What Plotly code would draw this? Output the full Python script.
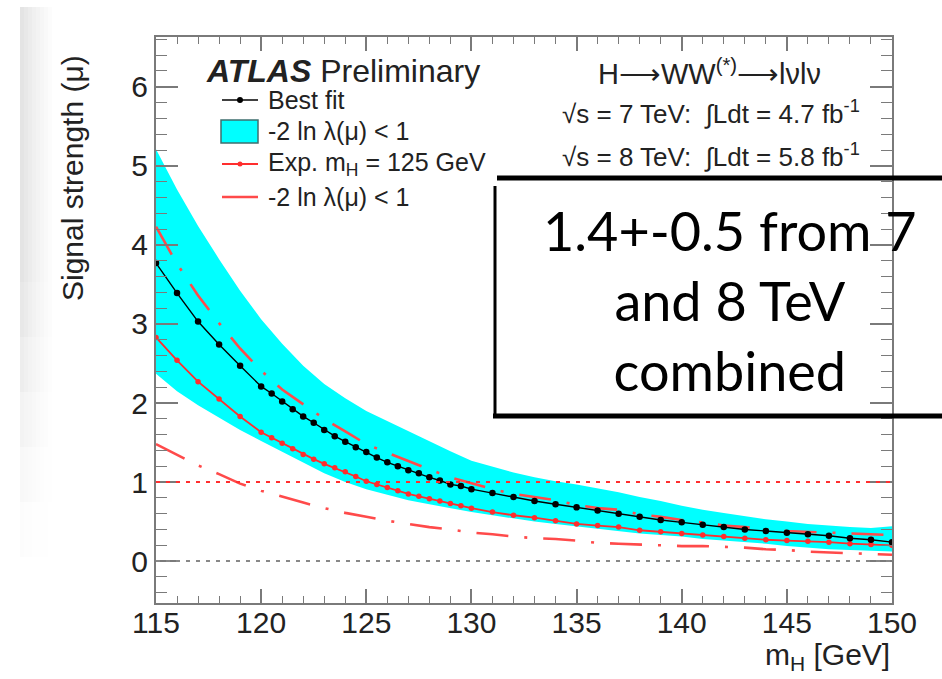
import plotly.graph_objects as go

# Higgs mass hypotheses (GeV): 1 GeV steps, 0.5 GeV steps between 120 and 130
mass_fine = [115, 116, 117, 118, 119,
             120, 120.5, 121, 121.5, 122, 122.5, 123, 123.5, 124, 124.5,
             125, 125.5, 126, 126.5, 127, 127.5, 128, 128.5, 129, 129.5, 130,
             131, 132, 133, 134, 135, 136, 137, 138, 139, 140,
             141, 142, 143, 144, 145, 146, 147, 148, 149, 150]

# Observed best-fit signal strength
mu_best = [3.77, 3.39, 3.03, 2.74, 2.47,
           2.21, 2.12, 2.02, 1.92, 1.83, 1.75, 1.66, 1.58, 1.51, 1.44,
           1.38, 1.31, 1.25, 1.20, 1.15, 1.11, 1.06, 1.02, 0.97, 0.95, 0.91,
           0.86, 0.81, 0.76, 0.72, 0.68, 0.64, 0.60, 0.56, 0.52, 0.49,
           0.46, 0.43, 0.40, 0.38, 0.36, 0.34, 0.32, 0.29, 0.27, 0.24]

# Expected best fit for an injected m_H = 125 GeV signal
mu_exp = [2.83, 2.54, 2.27, 2.05, 1.83,
          1.63, 1.56, 1.49, 1.42, 1.35, 1.29, 1.23, 1.18, 1.13, 1.07,
          1.01, 0.97, 0.93, 0.89, 0.85, 0.82, 0.79, 0.76, 0.73, 0.70, 0.67,
          0.62, 0.58, 0.55, 0.51, 0.47, 0.45, 0.43, 0.39, 0.37, 0.35,
          0.33, 0.31, 0.29, 0.27, 0.26, 0.25, 0.24, 0.22, 0.21, 0.20]

# Integer mass grid for the -2 ln lambda(mu) < 1 intervals
mass_band = list(range(115, 151))

obs_hi = [5.21, 4.70, 4.24, 3.82, 3.42, 3.06, 2.75, 2.47, 2.24, 2.06,
          1.90, 1.77, 1.64, 1.51, 1.39, 1.27, 1.19, 1.12, 1.06, 1.01,
          0.97, 0.92, 0.87, 0.81, 0.76, 0.70, 0.65, 0.61, 0.57, 0.53,
          0.50, 0.47, 0.45, 0.43, 0.42, 0.44]
obs_lo = [2.37, 2.15, 1.97, 1.81, 1.66, 1.52, 1.38, 1.24, 1.11, 1.00,
          0.91, 0.84, 0.77, 0.72, 0.67, 0.62, 0.58, 0.54, 0.50, 0.47,
          0.44, 0.41, 0.38, 0.35, 0.33, 0.31, 0.28, 0.26, 0.24, 0.22,
          0.19, 0.17, 0.15, 0.14, 0.13, 0.12]

exp_hi = [4.23, 3.76, 3.36, 3.01, 2.69, 2.41, 2.17, 1.98, 1.80, 1.64,
          1.48, 1.37, 1.26, 1.16, 1.06, 0.98, 0.91, 0.85, 0.81, 0.77,
          0.71, 0.67, 0.65, 0.59, 0.56, 0.52, 0.49, 0.45, 0.43, 0.40,
          0.38, 0.37, 0.36, 0.35, 0.34, 0.33]
exp_lo = [1.48, 1.34, 1.21, 1.10, 0.98, 0.89, 0.81, 0.74, 0.67, 0.61,
          0.56, 0.51, 0.47, 0.43, 0.40, 0.36, 0.34, 0.31, 0.29, 0.28,
          0.26, 0.23, 0.22, 0.21, 0.20, 0.19, 0.19, 0.18, 0.17, 0.15,
          0.14, 0.12, 0.11, 0.10, 0.09, 0.08]

x_ticks = [115, 120, 125, 130, 135, 140, 145, 150]
y_ticks = [0, 1, 2, 3, 4, 5, 6]

# Canvas geometry (pixels)
WIDTH, HEIGHT = 942, 679
L, R, T, B = 156, 892, 37, 603
PW, PH = R - L, B - T


def px(x):
    return (x - L) / PW


def py(y):
    return (B - y) / PH


FONT = "Liberation Sans, Arial, Helvetica, sans-serif"
TXT = "#222222"
RED = "#ff2e2e"
RED_SOFT = "#ff4a4a"
CYAN = "#00ffff"

fig = go.Figure()

# observed interval (cyan band)
fig.add_trace(go.Scatter(x=mass_band, y=obs_hi, mode="lines",
                         line=dict(width=0, color=CYAN), hoverinfo="skip",
                         showlegend=False))
fig.add_trace(go.Scatter(x=mass_band, y=obs_lo, mode="lines", fill="tonexty",
                         fillcolor=CYAN, line=dict(width=0, color=CYAN),
                         hoverinfo="skip", showlegend=False))

# expected interval (dash-dot red)
for band in (exp_hi, exp_lo):
    fig.add_trace(go.Scatter(x=mass_band, y=band, mode="lines",
                             line=dict(color=RED_SOFT, width=2.6,
                                       dash="32px,16px,3px,16px"),
                             showlegend=False))

# expected signal strength
fig.add_trace(go.Scatter(x=mass_fine, y=mu_exp, mode="lines+markers",
                         line=dict(color=RED, width=1.8),
                         marker=dict(color=RED, size=5.5),
                         showlegend=False))

# observed best fit
fig.add_trace(go.Scatter(x=mass_fine, y=mu_best, mode="lines+markers",
                         line=dict(color="black", width=1.4),
                         marker=dict(color="black", size=6.5),
                         showlegend=False))

shapes = []

# soft grey shading along the left edge of the canvas, fading right and down
col_levels = [228, 232, 236, 240, 243, 246, 249, 252]
row_fade = [1.0, 1.0, 1.0, 1.0, 1.0, 0.85, 0.65, 0.45, 0.25, 0.1]
row_h = 55
for j, f in enumerate(row_fade):
    y_top = 7 + j * row_h
    for i, lev in enumerate(col_levels):
        v = int(round(255 - (255 - lev) * f))
        x0 = 20 + i * 4
        shapes.append(dict(type="rect", xref="paper", yref="paper",
                           x0=px(x0), x1=px(x0 + 4),
                           y0=py(y_top + row_h), y1=py(y_top),
                           fillcolor=f"rgb({v},{v},{v})", line=dict(width=0),
                           layer="below"))

# reference lines at mu = 1 and mu = 0
shapes.append(dict(type="line", xref="x domain", yref="y", x0=0, x1=1, y0=1, y1=1,
                   line=dict(color=RED, width=2, dash="4px,6px")))
shapes.append(dict(type="line", xref="x domain", yref="y", x0=0, x1=1, y0=0, y1=0,
                   line=dict(color="#888888", width=2, dash="4px,6px")))

# legend samples
lx0, lx1 = 222, 258
shapes.append(dict(type="line", xref="paper", yref="paper",
                   x0=px(lx0), x1=px(lx1), y0=py(100), y1=py(100),
                   line=dict(color="black", width=1.4)))
shapes.append(dict(type="circle", xref="paper", yref="paper",
                   x0=px(237), x1=px(243), y0=py(103), y1=py(97),
                   fillcolor="black", line=dict(width=0)))
shapes.append(dict(type="rect", xref="paper", yref="paper",
                   x0=px(221), x1=px(258), y0=py(143), y1=py(120),
                   fillcolor=CYAN, line=dict(color="#3f6f6f", width=1.5)))
shapes.append(dict(type="line", xref="paper", yref="paper",
                   x0=px(lx0), x1=px(lx1), y0=py(164), y1=py(164),
                   line=dict(color=RED, width=2)))
shapes.append(dict(type="circle", xref="paper", yref="paper",
                   x0=px(237.5), x1=px(242.5), y0=py(166.5), y1=py(161.5),
                   fillcolor=RED, line=dict(width=0)))
shapes.append(dict(type="line", xref="paper", yref="paper",
                   x0=px(lx0), x1=px(lx1), y0=py(197), y1=py(197),
                   line=dict(color=RED_SOFT, width=2.6)))

# callout box
shapes.append(dict(type="line", xref="paper", yref="paper",
                   x0=px(497), x1=px(960), y0=py(178), y1=py(178),
                   line=dict(color="black", width=5)))
shapes.append(dict(type="line", xref="paper", yref="paper",
                   x0=px(495), x1=px(495), y0=py(186), y1=py(417),
                   line=dict(color="black", width=3)))
shapes.append(dict(type="line", xref="paper", yref="paper",
                   x0=px(493), x1=px(960), y0=py(416), y1=py(416),
                   line=dict(color="black", width=5)))

annotations = []


def label(text, x, y, size, xanchor="left", color=TXT, family=FONT, **kw):
    annotations.append(dict(text=text, xref="paper", yref="paper",
                            x=px(x), y=py(y), xanchor=xanchor, yanchor="middle",
                            showarrow=False,
                            font=dict(family=family, size=size, color=color), **kw))


label("<b><i>ATLAS</i></b> Preliminary", 204, 71, 32)
label("Best fit", 266, 100, 25)
label("-2 ln λ(μ) < 1", 266, 131, 25)
label("Exp. m<sub>H</sub> = 125 GeV", 266, 164, 25)
label("-2 ln λ(μ) < 1", 266, 197, 25)

label("H⟶WW<sup>(*)</sup>⟶lνlν", 709, 72, 29, xanchor="center")
label("√s = 7 TeV:  ∫Ldt = 4.7 fb<sup>-1</sup>", 711, 113, 26, xanchor="center")
label("√s = 8 TeV:  ∫Ldt = 5.8 fb<sup>-1</sup>", 711, 155, 26, xanchor="center")

label("1.4+-0.5 from 7<br>and 8 TeV<br>combined", 730, 300, 54,
      xanchor="center", color="black", family="Lato, Open Sans, sans-serif",
      align="center")

label("Signal strength (μ)", 72, 178, 30, xanchor="center", textangle=-90)
label("m<sub>H</sub> [GeV]", 892, 656, 30, xanchor="right")

axis_common = dict(showgrid=False, zeroline=False, showline=True,
                   linecolor="#7a7a7a", linewidth=2, mirror="allticks",
                   ticks="inside", tickcolor="#7a7a7a", tickwidth=1.5,
                   tickfont=dict(family=FONT, size=30, color=TXT))

fig.update_layout(
    width=WIDTH, height=HEIGHT,
    margin=dict(l=L, r=WIDTH - R, t=T, b=HEIGHT - B),
    paper_bgcolor="white", plot_bgcolor="white",
    showlegend=False,
    shapes=shapes, annotations=annotations,
    xaxis=dict(range=[115, 150], tickvals=x_ticks,
               ticktext=[str(v) for v in x_ticks], ticklen=14,
               ticklabelstandoff=-8,
               minor=dict(dtick=1, ticks="inside", ticklen=7,
                          tickcolor="#7a7a7a", tickwidth=1.2),
               **axis_common),
    yaxis=dict(range=[-0.53, 6.63], tickvals=y_ticks,
               ticktext=[str(v) for v in y_ticks], ticklen=22,
               minor=dict(dtick=0.2, ticks="inside", ticklen=11,
                          tickcolor="#7a7a7a", tickwidth=1.2),
               **axis_common),
)

fig.write_html("out.html")
